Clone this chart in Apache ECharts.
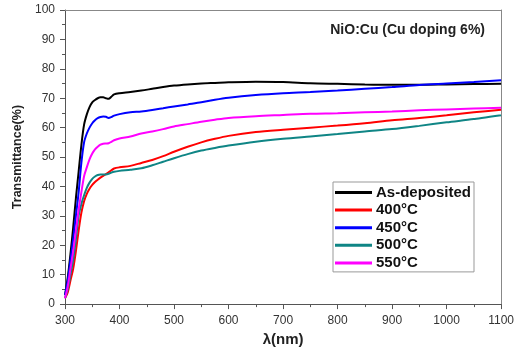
<!DOCTYPE html>
<html>
<head>
<meta charset="utf-8">
<script src="https://cdn.jsdelivr.net/npm/echarts@6/dist/echarts.min.js"></script>
<style>
  html, body { margin: 0; padding: 0; background: #fff; }
  #chart { width: 517px; height: 352px; }
</style>
</head>
<body>
<div id="chart"></div>
<script>
// wavelength grid (nm)
const wavelengths = [300, 305, 310, 315, 320, 325, 330, 335, 340, 345, 350, 355, 360, 365, 370, 375, 380, 385, 390,
  400, 420, 440, 460, 480, 500, 525, 550, 575, 600, 650, 700, 750, 800, 850, 900, 950, 1000, 1050, 1100];

// transmittance (%)
const asDeposited = [3, 9, 17, 26, 36, 45, 54, 61, 64.5, 67, 68.6, 69.4, 70, 70.3, 70.3, 70.0, 69.8, 70.5, 71.3,
  71.7, 72.1, 72.6, 73.2, 73.8, 74.3, 74.7, 75.0, 75.2, 75.4, 75.6, 75.5, 75.1, 74.9, 74.7, 74.6, 74.6, 74.7, 74.8, 74.9];
const t400 = [2, 4, 8, 12, 18, 25, 31, 35, 37.5, 39.2, 40.5, 41.5, 42.3, 43.0, 43.6, 44.2, 44.8, 45.5, 46.1,
  46.5, 47.0, 48.0, 49.0, 50.3, 51.8, 53.5, 55.0, 56.2, 57.2, 58.5, 59.3, 60.0, 60.7, 61.5, 62.5, 63.3, 64.2, 65.2, 66.1];
const t450 = [3, 8, 15, 22, 30, 38, 48, 55, 58, 60, 61.5, 62.5, 63.2, 63.6, 63.8, 63.7, 63.3, 63.6, 64.1,
  64.6, 65.2, 65.5, 66.0, 66.6, 67.2, 67.9, 68.6, 69.5, 70.2, 71.1, 71.7, 72.1, 72.6, 73.2, 73.8, 74.5, 75.0, 75.5, 76.1];
const t500 = [2, 5, 10, 15, 22, 30, 34, 37, 39.5, 41.3, 42.6, 43.4, 43.9, 44.1, 44.1, 44.1, 44.3, 44.7, 45.0,
  45.3, 45.7, 46.2, 47.2, 48.4, 49.6, 51.0, 52.2, 53.1, 53.9, 55.2, 56.2, 57.0, 57.8, 58.7, 59.5, 60.6, 61.8, 62.9, 64.2];
const t550 = [2, 6, 12, 18, 25, 32, 38, 43.5, 46.5, 49.2, 51.2, 52.6, 53.5, 54.2, 54.5, 54.6, 54.7, 55.2, 55.7,
  56.3, 57.0, 58.0, 58.7, 59.5, 60.4, 61.2, 62.0, 62.7, 63.3, 63.9, 64.3, 64.7, 64.9, 65.2, 65.5, 65.9, 66.2, 66.5, 66.8];

const seriesNames = ['As-deposited', '400°C', '450°C', '500°C', '550°C'];
const seriesData = [asDeposited, t400, t450, t500, t550];
const seriesColors = ['#000000', '#ff0000', '#0000ff', '#0f8585', '#ff00ff'];

const FONT = 'Liberation Sans, Arial, sans-serif';

const chart = echarts.init(document.getElementById('chart'));

const option = {
  backgroundColor: '#ffffff',
  animation: false,
  title: {
    text: 'NiO:Cu (Cu doping 6%)',
    right: 27,
    top: 18,
    textStyle: { fontFamily: FONT, fontSize: 14, fontWeight: 'bold', color: '#222' },
  },
  legend: {
    orient: 'vertical',
    left: 333,
    top: 182,
    padding: [2.5, 3, 1, 2],
    itemWidth: 37,
    itemHeight: 3,
    itemGap: 1.6,
    icon: 'rect',
    borderColor: '#999',
    borderWidth: 1,
    borderRadius: 0,
    textStyle: { fontFamily: FONT, fontSize: 15, fontWeight: 'bold', color: '#111', lineHeight: 16, padding: [0, 0, 0, -1] },
    data: seriesNames,
  },
  grid: { left: 65, right: 14, top: 10, bottom: 44, show: false },
  xAxis: [{
    type: 'value',
    min: 300,
    max: 1100,
    interval: 100,
    name: 'λ(nm)',
    nameLocation: 'middle',
    nameGap: 26,
    nameTextStyle: { fontFamily: FONT, fontSize: 15, fontWeight: 'bold', color: '#222' },
    axisLine: { show: true, lineStyle: { color: '#555', width: 1 } },
    axisTick: { show: true, length: 5, lineStyle: { color: '#555' } },
    minorTick: { show: true, splitNumber: 2, length: 3, lineStyle: { color: '#555' } },
    axisLabel: { fontFamily: FONT, fontSize: 12, color: '#333', margin: 11, formatter: (v) => String(v) },
    splitLine: { show: false },
  }, {
    type: 'value',
    position: 'top',
    min: 300,
    max: 1100,
    axisLine: { show: true, onZero: false, lineStyle: { color: '#888', width: 1 } },
    axisTick: { show: false },
    axisLabel: { show: false },
    splitLine: { show: false },
  }],
  yAxis: [{
    type: 'value',
    min: 0,
    max: 100,
    interval: 10,
    name: 'Transmittance(%)',
    nameLocation: 'middle',
    nameGap: 38,
    nameTextStyle: { fontFamily: FONT, fontSize: 12.5, fontWeight: 'bold', color: '#222' },
    axisLine: { show: true, lineStyle: { color: '#555', width: 1 } },
    axisTick: { show: true, length: 5, lineStyle: { color: '#555' } },
    minorTick: { show: true, splitNumber: 2, length: 3, lineStyle: { color: '#555' } },
    axisLabel: { fontFamily: FONT, fontSize: 12, color: '#333', margin: 10 },
    splitLine: { show: false },
  }, {
    type: 'value',
    position: 'right',
    min: 0,
    max: 100,
    axisLine: { show: true, onZero: false, lineStyle: { color: '#888', width: 1 } },
    axisTick: { show: false },
    axisLabel: { show: false },
    splitLine: { show: false },
  }],
  series: seriesNames.map((name, i) => ({
    name: name,
    type: 'line',
    xAxisIndex: 0,
    yAxisIndex: 0,
    showSymbol: false,
    symbol: 'none',
    smooth: 0.3,
    data: wavelengths.map((w, k) => [w, seriesData[i][k]]),
    lineStyle: { color: seriesColors[i], width: 2 },
    itemStyle: { color: seriesColors[i] },
  })),
};

chart.setOption(option);
</script>
</body>
</html>
